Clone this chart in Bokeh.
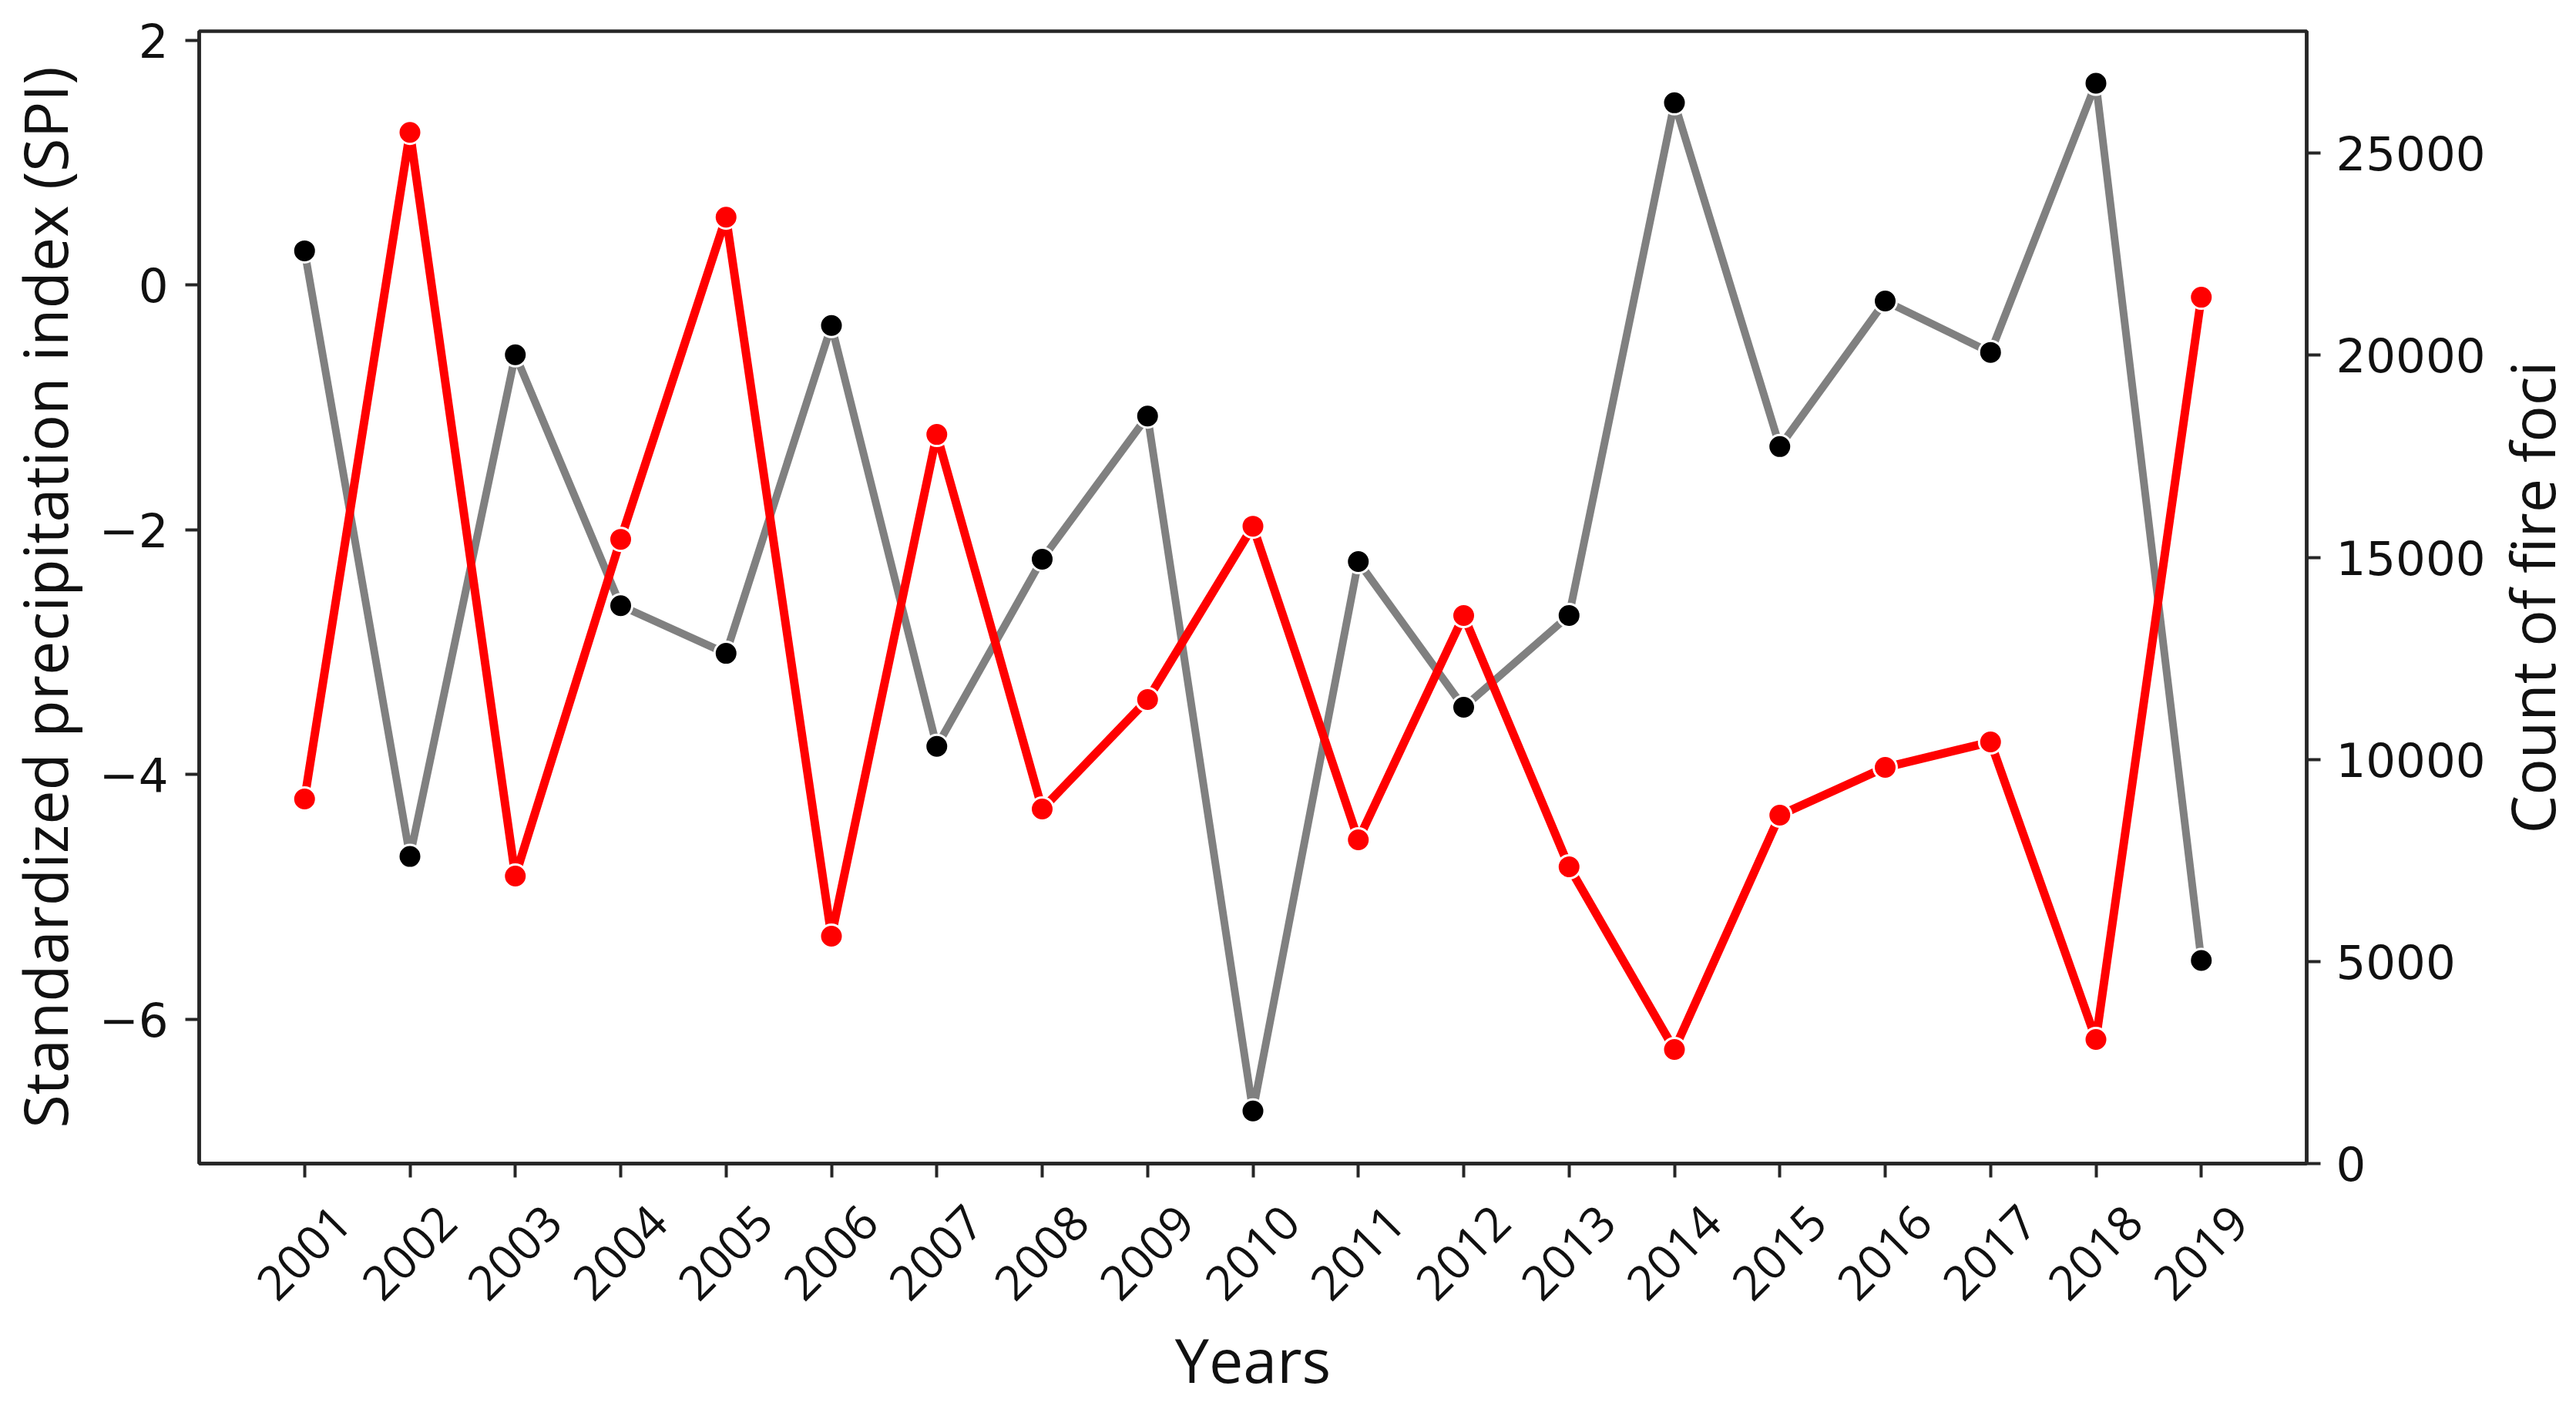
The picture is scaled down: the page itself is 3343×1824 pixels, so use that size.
from bokeh.plotting import figure
from bokeh.models import Range1d, LinearAxis, FixedTicker, ColumnDataSource
from bokeh.layouts import row
from bokeh.embed import file_html
from bokeh.resources import INLINE
import math

# ---------------- data ----------------
years = list(range(2001, 2020))
year_labels = [str(y) for y in years]
spi = [0.28, -4.67, -0.57, -2.62, -3.01, -0.33, -3.77, -2.24, -1.07, -6.75,
       -2.26, -3.45, -2.70, 1.49, -1.32, -0.13, -0.55, 1.65, -5.52]
fire_foci = [9020, 25515, 7113, 15446, 23417, 5626, 18040, 8772, 11480, 15770,
             8009, 13559, 7342, 2822, 8620, 9802, 10431, 3070, 21435]
spi_ticks = [-6, -4, -2, 0, 2]
spi_tick_labels = ["\u22126", "\u22124", "\u22122", "0", "2"]
fire_ticks = [0, 5000, 10000, 15000, 20000, 25000]
fire_tick_labels = ["0", "5000", "10000", "15000", "20000", "25000"]

SPI_RANGE = (-7.18, 2.075)
FIRE_RANGE = (0, 28017)
X_RANGE = (2000, 2020)

FRAME_W, FRAME_H = 2735, 1469
BORDER_TOP, BORDER_BOTTOM = 40, 299
AX_COLOR = "#262626"
TEXT_COLOR = "#111111"
TICK_FONT_SIZE = "61px"
TITLE_FONT = "Open Sans"
TITLE_SIZE = "79px"

# rotated year labels: matplotlib centres them on the tick, bokeh right-aligns
# them, so the label axis uses a range shifted by LABEL_SHIFT_PX
LABEL_SHIFT_PX = 49
px_per_year = FRAME_W / (X_RANGE[1] - X_RANGE[0])
shift = LABEL_SHIFT_PX / px_per_year

src = ColumnDataSource(dict(year=years, spi=spi, fire=fire_foci))

p = figure(frame_width=FRAME_W, frame_height=FRAME_H,
           x_range=Range1d(*X_RANGE), y_range=Range1d(*SPI_RANGE),
           output_backend="svg", toolbar_location=None,
           min_border_left=253, min_border_right=0,
           min_border_top=BORDER_TOP, min_border_bottom=BORDER_BOTTOM,
           background_fill_color="white", border_fill_color="white")
p.extra_y_ranges = {"fire": Range1d(*FIRE_RANGE)}
p.extra_x_ranges = {"lab": Range1d(X_RANGE[0] - shift, X_RANGE[1] - shift)}
p.grid.visible = False
p.outline_line_color = AX_COLOR
p.outline_line_width = 4.5


def style_axis(ax):
    ax.axis_line_color = AX_COLOR
    ax.axis_line_width = 4.5
    ax.major_tick_line_color = AX_COLOR
    ax.major_tick_line_width = 4
    ax.major_tick_out = 18
    ax.major_tick_in = 0
    ax.minor_tick_line_color = None
    ax.minor_tick_out = 0
    ax.minor_tick_in = 0
    ax.major_label_text_color = TEXT_COLOR
    ax.major_label_text_font = "DejaVu Sans"
    ax.major_label_text_font_size = TICK_FONT_SIZE
    ax.axis_label_text_font = TITLE_FONT
    ax.axis_label_text_font_size = TITLE_SIZE
    ax.axis_label_text_font_style = "normal"
    ax.axis_label_text_color = TEXT_COLOR


# left axis (SPI)
yax = p.yaxis[0]
style_axis(yax)
yax.ticker = FixedTicker(ticks=spi_ticks)
yax.major_label_overrides = dict(zip(spi_ticks, spi_tick_labels))
yax.major_label_standoff = 22
yax.axis_label = "Standardized precipitation index (SPI)"
yax.axis_label_standoff = 15

# bottom axis A: tick marks only
xax = p.xaxis[0]
style_axis(xax)
xax.ticker = FixedTicker(ticks=years)
xax.major_label_overrides = {y: "" for y in years}
xax.major_label_text_font_size = "1px"
xax.major_label_standoff = 0

# bottom axis B: rotated year labels + axis title
lax = LinearAxis(x_range_name="lab")
style_axis(lax)
lax.axis_line_color = None
lax.major_tick_line_color = None
lax.major_tick_out = 0
lax.ticker = FixedTicker(ticks=years)
lax.major_label_overrides = dict(zip(years, year_labels))
lax.major_label_orientation = math.pi / 4
lax.major_label_text_font = TITLE_FONT
lax.major_label_text_font_size = "62px"
lax.major_label_standoff = 47
lax.axis_label = "Years"
lax.axis_label_standoff = 0
p.add_layout(lax, "below")

# right axis (fire foci)
rax = LinearAxis(y_range_name="fire")
style_axis(rax)
rax.ticker = FixedTicker(ticks=fire_ticks)
rax.major_label_overrides = dict(zip(fire_ticks, fire_tick_labels))
rax.major_label_standoff = 20
p.add_layout(rax, "right")

# series
p.line("year", "spi", source=src, line_color="#808080", line_width=10, line_join="round")
p.scatter("year", "spi", source=src, size=30, fill_color="black",
          line_color="white", line_width=3)
p.line("year", "fire", source=src, y_range_name="fire", line_color="#ff0000",
       line_width=11, line_join="round")
p.scatter("year", "fire", source=src, y_range_name="fire", size=30,
          fill_color="#ff0000", line_color="white", line_width=3)

# narrow companion figure carrying the right-hand axis title so that it reads
# bottom-to-top like the left title
p2 = figure(frame_width=1, frame_height=FRAME_H,
            x_range=Range1d(0, 1), y_range=Range1d(*FIRE_RANGE),
            output_backend="svg", toolbar_location=None,
            x_axis_location=None, y_axis_location="left",
            min_border_left=0, min_border_right=0,
            min_border_top=BORDER_TOP, min_border_bottom=BORDER_BOTTOM,
            background_fill_color="white", border_fill_color="white")
p2.grid.visible = False
p2.outline_line_color = None
tax = p2.yaxis[0]
style_axis(tax)
tax.ticker = FixedTicker(ticks=[])
tax.axis_line_color = None
tax.major_tick_line_color = None
tax.major_tick_out = 0
tax.major_label_standoff = 0
tax.axis_label = "Count of fire foci"
tax.axis_label_standoff = 0

layout = row(p, p2, spacing=0)
open("out.html", "w").write(file_html(layout, INLINE))
